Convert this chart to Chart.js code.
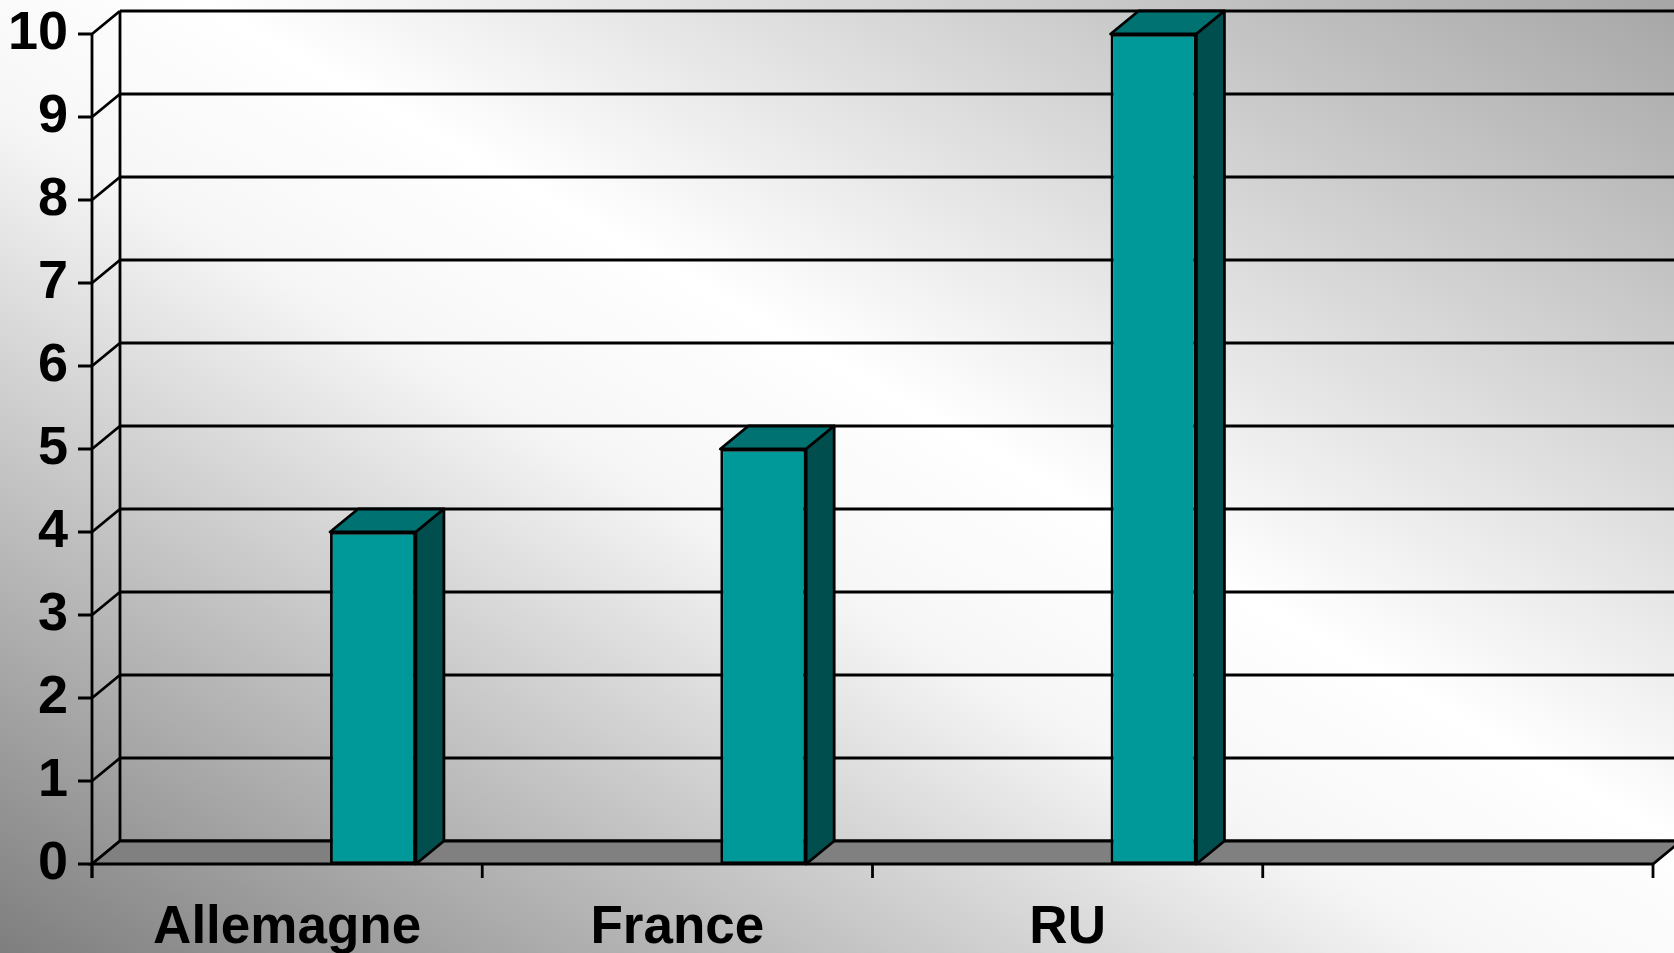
<!DOCTYPE html>
<html>
<head>
<meta charset="utf-8">
<script src="https://cdn.jsdelivr.net/npm/chart.js@4.4.1/dist/chart.umd.min.js"></script>
<style>
  html, body { margin: 0; padding: 0; overflow: hidden; }
  body {
    width: 1674px; height: 953px;
    background: linear-gradient(to top right, #7e7e7e 0%, #f6f6f6 44%, #ffffff 56%, #a6a6a6 100%);
  }
  canvas { display: block; }
</style>
</head>
<body>
<canvas id="graphique" width="1674" height="953"></canvas>
<script>
const pays = ['Allemagne', 'France', 'RU', ''];
const valeurs = [4, 5, 10, null];
const vide = [null, null, null, null]; // serie fantome, decale les colonnes vers la droite comme dans Excel 3D
const graduations = [0, 1, 2, 3, 4, 5, 6, 7, 8, 9, 10];

const DX = 28, DY = 23; // profondeur 3D

const effet3D = {
  id: 'effet3D',
  beforeDatasetsDraw(chart) {
    const { ctx, chartArea } = chart;
    const y = chart.scales.y;
    const g = chartArea.left, d = chartArea.right, bas = y.getPixelForValue(0);
    ctx.save();
    ctx.strokeStyle = '#000';
    ctx.lineWidth = 2.8;

    // lignes du fond + liaisons diagonales + graduations
    graduations.forEach(v => {
      const py = y.getPixelForValue(v);
      ctx.beginPath();
      ctx.moveTo(g + DX, py - DY);
      ctx.lineTo(d + DX + 10, py - DY);
      ctx.moveTo(g, py);
      ctx.lineTo(g + DX, py - DY);
      ctx.moveTo(g - 14, py);
      ctx.lineTo(g, py);
      ctx.stroke();
    });

    // mur gauche du fond
    ctx.beginPath();
    ctx.moveTo(g + DX, y.getPixelForValue(10) - DY);
    ctx.lineTo(g + DX, bas - DY);
    ctx.stroke();

    // plancher
    ctx.beginPath();
    ctx.moveTo(g, bas);
    ctx.lineTo(d, bas);
    ctx.lineTo(d + DX, bas - DY);
    ctx.lineTo(g + DX, bas - DY);
    ctx.closePath();
    ctx.fillStyle = '#808080';
    ctx.fill();
    ctx.stroke();

    // axe vertical avant
    ctx.beginPath();
    ctx.moveTo(g, y.getPixelForValue(10));
    ctx.lineTo(g, bas + 14);
    ctx.stroke();

    // graduations des categories
    const n = pays.length;
    for (let i = 0; i <= n; i++) {
      const px = g + (d - g) * i / n;
      ctx.beginPath();
      ctx.moveTo(px, bas);
      ctx.lineTo(px, bas + 14);
      ctx.stroke();
    }
    ctx.restore();
  },
  afterDatasetsDraw(chart) {
    const { ctx } = chart;
    const meta = chart.getDatasetMeta(1);
    ctx.save();
    ctx.strokeStyle = '#000';
    ctx.lineWidth = 2.8;
    ctx.lineJoin = 'round';
    meta.data.forEach((bar, i) => {
      if (valeurs[i] == null) return;
      const { x, y, base, width } = bar.getProps(['x', 'y', 'base', 'width'], true);
      const x1 = x - width / 2, x2 = x + width / 2;
      // dessus
      ctx.beginPath();
      ctx.moveTo(x1, y);
      ctx.lineTo(x1 + DX, y - DY);
      ctx.lineTo(x2 + DX, y - DY);
      ctx.lineTo(x2, y);
      ctx.closePath();
      ctx.fillStyle = '#007272';
      ctx.fill();
      ctx.stroke();
      // cote
      ctx.beginPath();
      ctx.moveTo(x2, y);
      ctx.lineTo(x2 + DX, y - DY);
      ctx.lineTo(x2 + DX, base - DY);
      ctx.lineTo(x2, base);
      ctx.closePath();
      ctx.fillStyle = '#004e4e';
      ctx.fill();
      ctx.stroke();
    });
    ctx.restore();
  }
};

new Chart(document.getElementById('graphique'), {
  type: 'bar',
  data: {
    labels: pays,
    datasets: [
      { label: '', data: vide, backgroundColor: 'rgba(0,0,0,0)' },
      {
        label: 'Valeur',
        data: valeurs,
        backgroundColor: '#009999',
        borderColor: '#000',
        borderWidth: 2.8,
        borderSkipped: false
      }
    ]
  },
  options: {
    responsive: false,
    animation: false,
    devicePixelRatio: 1,
    categoryPercentage: 0.88,
    barPercentage: 0.5,
    layout: { padding: { top: 34, right: 21, left: 0, bottom: 0 } },
    plugins: { legend: { display: false }, tooltip: { enabled: false } },
    scales: {
      x: {
        grid: { display: false, drawTicks: false },
        border: { display: false },
        ticks: {
          color: '#000',
          padding: 33,
          maxRotation: 0,
          font: { family: 'Liberation Sans', size: 53, weight: 'bold' }
        },
        afterFit(scale) { scale.height = 89; }
      },
      y: {
        min: 0,
        max: 10,
        grid: { display: false, drawTicks: false },
        border: { display: false },
        ticks: {
          stepSize: 1,
          color: '#000',
          padding: 24,
          font: { family: 'Liberation Sans', size: 54, weight: 'bold', lineHeight: 0.3 }
        },
        afterFit(scale) { scale.width = 92; }
      }
    }
  },
  plugins: [effet3D]
});
</script>
</body>
</html>
